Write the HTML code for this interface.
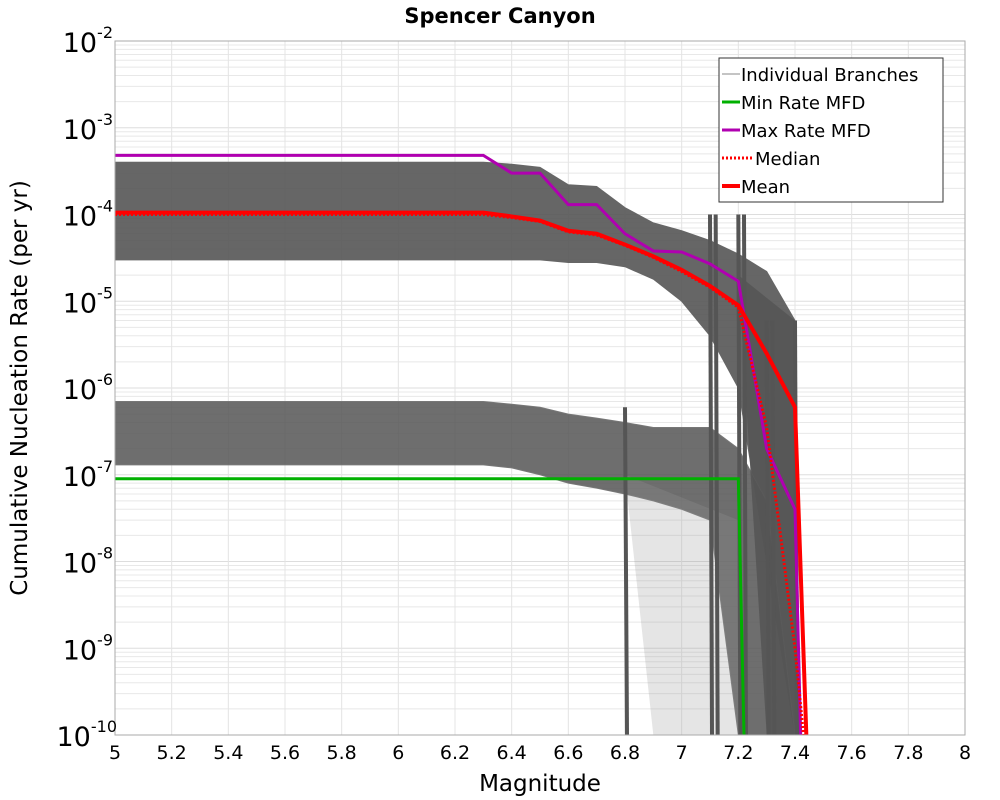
<!DOCTYPE html>
<html><head><meta charset="utf-8">
<style>
body{margin:0;background:#fff;}
svg{display:block;font-family:"DejaVu Sans","Liberation Sans",sans-serif;}
</style></head>
<body>
<svg id="chart" width="1000" height="800" viewBox="0 0 1000 800" xmlns="http://www.w3.org/2000/svg">
<text x="500" y="23" text-anchor="middle" font-size="21" font-weight="bold">Spencer Canyon</text>
<g id="grid"></g>
<g id="bands"></g>
<g id="series"></g>
<rect x="115" y="41" width="850" height="694" fill="none" stroke="#aaa" stroke-width="1"/>
<g id="axes"></g>
<text x="540" y="791" text-anchor="middle" font-size="23">Magnitude</text>
<text transform="translate(27,388) rotate(-90)" text-anchor="middle" font-size="23">Cumulative Nucleation Rate (per yr)</text>
<g id="legend">
<rect x="719" y="58" width="224" height="144" fill="#fff" stroke="#333" stroke-width="1"/>
<line x1="722" y1="74" x2="740" y2="74" stroke="#888" stroke-width="1"/>
<text x="741" y="81" font-size="18">Individual Branches</text>
<line x1="722" y1="102" x2="740" y2="102" stroke="#00b000" stroke-width="3"/>
<text x="741" y="109" font-size="18">Min Rate MFD</text>
<line x1="722" y1="130" x2="740" y2="130" stroke="#b000b0" stroke-width="3"/>
<text x="741" y="137" font-size="18">Max Rate MFD</text>
<line x1="722" y1="158" x2="752" y2="158" stroke="#f00" stroke-width="3" stroke-dasharray="2,2"/>
<text x="755" y="165" font-size="18">Median</text>
<line x1="722" y1="186" x2="740" y2="186" stroke="#f00" stroke-width="4"/>
<text x="741" y="193" font-size="18">Mean</text>
</g>
</svg>
<script>
const mags=[5.0,6.3,6.4,6.5,6.6,6.7,6.8,6.9,7.0,7.1,7.2,7.3,7.4];
const meanVals=[1.05e-4,1.05e-4,9.5e-5,8.5e-5,6.5e-5,6e-5,4.5e-5,3.3e-5,2.3e-5,1.5e-5,9e-6,2.5e-6,6e-7];
const medianVals=[1.0e-4,1.0e-4,9.2e-5,8.3e-5,6.3e-5,5.8e-5,4.4e-5,3.2e-5,2.2e-5,1.45e-5,8.5e-6,3.5e-7,1e-9];
const maxVals=[4.8e-4,4.8e-4,3e-4,3e-4,1.3e-4,1.3e-4,6e-5,3.8e-5,3.7e-5,2.7e-5,1.7e-5,2e-7,4e-8];
const minVals=[9e-8,9e-8];
const minMags=[5.0,7.2];
const minEndMag=7.22;
const meanEndMag=7.44, medianEndMag=7.43, maxEndMag=7.42;
const upperTop=[4e-4,4e-4,3.8e-4,3.5e-4,2.2e-4,2.1e-4,1.2e-4,8e-5,6.5e-5,5e-5,3.5e-5,2.2e-5,6e-6];
const upperBot=[3e-5,3e-5,3e-5,3e-5,2.8e-5,2.8e-5,2.5e-5,1.8e-5,1e-5,4e-6,1e-6,1e-8,1e-10];
const lowerTop=[7e-7,7e-7,6.5e-7,6e-7,5e-7,4.5e-7,4e-7,3.5e-7,3.5e-7,3.5e-7,2e-7,5e-8,1e-10];
const lowerBot=[1.3e-7,1.3e-7,1.2e-7,1e-7,8e-8,7e-8,6e-8,5e-8,4e-8,3e-8,1e-10,1e-10,1e-10];
const dropMags=[6.8,7.1,7.12,7.2,7.22,7.3,7.32,7.4];
const xTicks=[5,5.2,5.4,5.6,5.8,6,6.2,6.4,6.6,6.8,7,7.2,7.4,7.6,7.8,8];
const yExps=[-2,-3,-4,-5,-6,-7,-8,-9,-10];

const NS="http://www.w3.org/2000/svg";
const X=m=>115+(m-5)*850/3;
const Y=v=>41+(-2-Math.log10(v))*86.75;
function mk(tag,attrs,parent){const e=document.createElementNS(NS,tag);for(const k in attrs)e.setAttribute(k,attrs[k]);document.getElementById(parent).appendChild(e);return e;}

for(let d=-10;d<-2;d++){for(let k=1;k<10;k++){const y=Y(k*Math.pow(10,d));
 const l=mk('line',{x1:115,x2:965,y1:y,y2:y,stroke:k===1?'#ddd':'#e8e8e8','stroke-width':1},'grid');
 
 }}
xTicks.forEach(t=>{const l=mk('line',{x1:X(t),x2:X(t),y1:41,y2:735,stroke:'#e4e4e4','stroke-width':1},'grid');
 
 });

function band(top,bot){let d='M'+X(mags[0])+','+Y(top[0]);mags.forEach((m,i)=>{d+='L'+X(m)+','+Y(top[i]);});for(let i=mags.length-1;i>=0;i--)d+='L'+X(mags[i])+','+Y(bot[i]);return d+'Z';}
const b1=mk('path',{d:band(upperTop,upperBot),fill:'#555','fill-opacity':0.9,stroke:'#666','stroke-width':1},'bands');


const b2=mk('path',{d:band(lowerTop,lowerBot),fill:'#555','fill-opacity':0.85,stroke:'#777','stroke-width':1},'bands');


const w=mk('path',{d:'M'+X(7.2)+','+Y(2e-5)+'L'+X(7.4)+','+Y(6e-6)+'L'+X(7.42)+',735L'+X(7.3)+',735Z',fill:'#555','fill-opacity':0.85},'bands');


const w2=mk('path',{d:'M'+X(6.8)+','+Y(1e-7)+'L'+X(7.2)+','+Y(3e-8)+'L'+X(7.2)+',735L'+X(6.9)+',735Z',fill:'#999','fill-opacity':0.25},'bands');


dropMags.forEach(m=>{const l=mk('line',{x1:X(m),x2:X(m)+2,y1:Y(m<7?6e-7:m<7.25?1e-4:6e-6),y2:735,stroke:'#555','stroke-width':4},'bands');
 
 });

function lin(ms,vs,endMag){let d='';ms.forEach((m,i)=>{d+=(i?'L':'M')+X(m)+','+Y(vs[i]);});return d+'L'+X(endMag)+','+Y(1e-10);}
const s1=mk('path',{d:lin(minMags,minVals,minEndMag),fill:'none',stroke:'#00b000','stroke-width':3},'series');


const s2=mk('path',{d:lin(mags,maxVals,maxEndMag),fill:'none',stroke:'#b000b0','stroke-width':3},'series');


const s3=mk('path',{d:lin(mags,medianVals,medianEndMag),fill:'none',stroke:'#f00','stroke-width':3,'stroke-dasharray':'2,2'},'series');


const s4=mk('path',{d:lin(mags,meanVals,meanEndMag),fill:'none',stroke:'#f00','stroke-width':4},'series');



xTicks.forEach(t=>{const e=mk('text',{x:X(t),y:759,'text-anchor':'middle','font-size':19},'axes');e.textContent=String(t);
 
 });
yExps.forEach(p=>{const e=mk('text',{x:String(p).length>2?117:113,y:Y(Math.pow(10,p))+11,'text-anchor':'end','font-size':27},'axes');
 
 
 e.textContent='10';
 const s=document.createElementNS(NS,'tspan');s.setAttribute('dy','-14');s.setAttribute('font-size','16');s.textContent=String(p);e.appendChild(s);});
</script>
</body></html>
